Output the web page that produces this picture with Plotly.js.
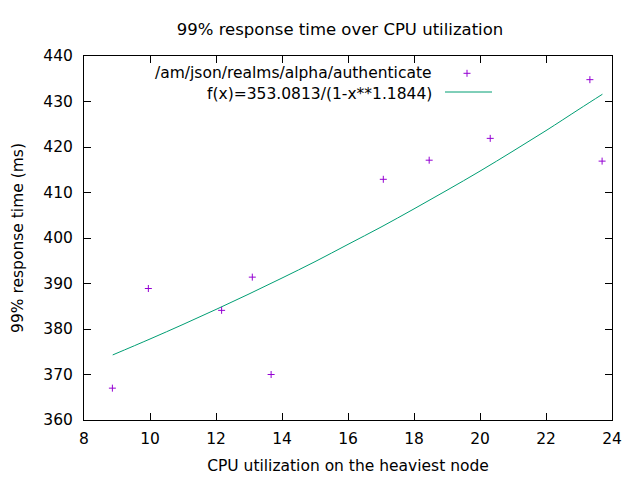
<!DOCTYPE html>
<html>
<head>
<meta charset="utf-8">
<script src="https://cdn.plot.ly/plotly-3.0.1.min.js"></script>
<style>html,body{margin:0;padding:0;background:#fff}#chart{width:640px;height:480px}</style>
</head>
<body>
<div id="chart"></div>
<script>
// Measured points
var cpuUtil = [8.86, 9.95, 12.17, 13.1, 13.67, 17.07, 18.46, 20.31, 23.33, 23.7];
var respTime = [367.0, 388.9, 384.1, 391.4, 370.0, 412.9, 417.1, 421.9, 434.8, 416.9];
// Fitted curve
var fitX = [8.87, 10, 11, 12, 13, 14, 15, 16, 17, 18, 19, 20, 21, 22, 23, 23.71];
var fitY = [374.3, 377.8, 381.0, 384.3, 387.7, 391.2, 394.8, 398.6, 402.4, 406.4, 410.5, 414.7, 419.1, 423.6, 428.3, 431.6];
var seriesName = '/am/json/realms/alpha/authenticate';
var fitName = 'f(x)=353.0813/(1-x**1.1844)';

var font = {family: 'DejaVu Sans, sans-serif', size: 15.5, color: '#000'};
var titleFont = {family: 'DejaVu Sans, sans-serif', size: 16.5, color: '#000'};
var purple = '#9400d3';
var green = '#009e73';

var traces = [
  {x: fitX, y: fitY, mode: 'lines', type: 'scatter', line: {color: green, width: 1, shape: 'spline'}, showlegend: false, hoverinfo: 'skip'},
  {x: cpuUtil, y: respTime, mode: 'markers', type: 'scatter',
   marker: {symbol: 'cross-thin-open', size: 5, color: purple, line: {color: purple, width: 1}}, showlegend: false}
];

var axisCommon = {showline: true, linecolor: '#000', linewidth: 1, mirror: 'ticks', ticks: 'inside', ticklen: 7, tickcolor: '#000', showgrid: false, zeroline: false, tickfont: font};

var layout = {
  width: 640, height: 480,
  margin: {l: 84, r: 28, t: 56, b: 60},
  paper_bgcolor: '#fff', plot_bgcolor: '#fff',
  font: font,
  showlegend: false,
  title: {text: '99% response time over CPU utilization', font: titleFont, x: 340/640, xanchor: 'center', y: 1 - 29/480, yref: 'container', yanchor: 'middle'},
  xaxis: Object.assign({}, axisCommon, {range: [8, 24], tickvals: [8,10,12,14,16,18,20,22,24], ticklabelstandoff: 4, title: {text: 'CPU utilization on the heaviest node', font: font, standoff: 13}}),
  yaxis: Object.assign({}, axisCommon, {range: [360, 440], tickvals: [360,370,380,390,400,410,420,430,440], ticklabelstandoff: 7, title: {text: '99% response time (ms)', font: font, standoff: 15}}),
  annotations: [
    {xref: 'paper', yref: 'paper', x: (434-84)/528, y: (420-73)/364, text: seriesName, showarrow: false, xanchor: 'right', yanchor: 'middle', font: font},
    {xref: 'paper', yref: 'paper', x: (434-84)/528, y: (420-94)/364, text: fitName, showarrow: false, xanchor: 'right', yanchor: 'middle', font: font}
  ],
  shapes: [
    {type: 'line', xref: 'paper', yref: 'paper', x0: (445-84)/528, x1: (492-84)/528, y0: (420-92)/364, y1: (420-92)/364, line: {color: green, width: 1}}
  ]
};

// legend sample marker
traces.push({x: [8 + (467-84)/33], y: [360 + (420-73.3)/4.55], mode: 'markers', type: 'scatter',
  marker: {symbol: 'cross-thin-open', size: 5, color: purple, line: {color: purple, width: 1}}, showlegend: false, hoverinfo: 'skip'});

Plotly.newPlot('chart', traces, layout, {staticPlot: true, displayModeBar: false});
</script>
</body>
</html>
